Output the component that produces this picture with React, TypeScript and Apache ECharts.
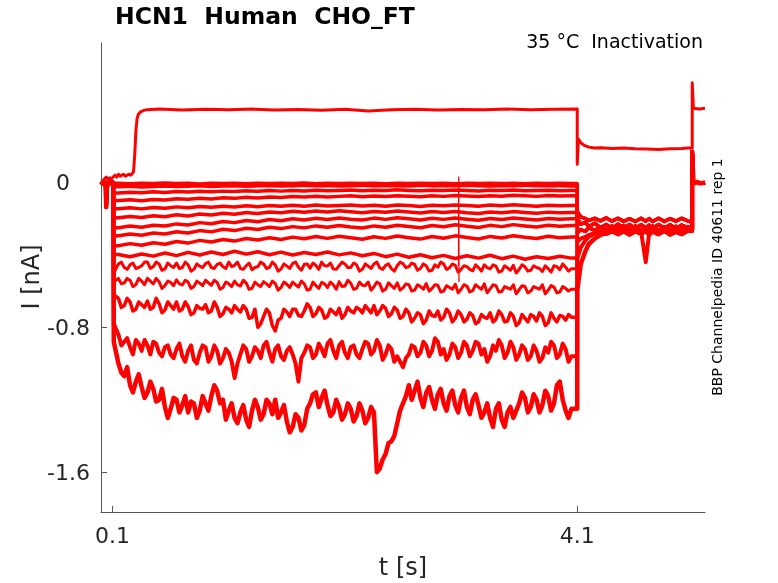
import React, { useEffect, useRef } from "react";
import * as echarts from "echarts";

// ---- sampling times (s) ----
const TC = [
  0.15, 0.25, 0.35, 0.45, 0.55, 0.65, 0.75, 0.85, 0.95, 1.05,
  1.15, 1.25, 1.35, 1.45, 1.55, 1.65, 1.75, 1.85, 1.95, 2.05,
  2.15, 2.25, 2.35, 2.45, 2.55, 2.65, 2.75, 2.85, 2.95, 3.05,
  3.15, 3.25, 3.35, 3.45, 3.55, 3.65, 3.75, 3.85, 3.95, 4.05,
];
const TF = [
  0.15, 0.2, 0.25, 0.3, 0.35, 0.4, 0.45, 0.5, 0.55, 0.6,
  0.65, 0.7, 0.75, 0.8, 0.85, 0.9, 0.95, 1.0, 1.05, 1.1,
  1.15, 1.2, 1.25, 1.3, 1.35, 1.4, 1.45, 1.5, 1.55, 1.6,
  1.65, 1.7, 1.75, 1.8, 1.85, 1.9, 1.95, 2.0, 2.05, 2.1,
  2.15, 2.2, 2.25, 2.3, 2.35, 2.4, 2.45, 2.5, 2.55, 2.6,
  2.65, 2.7, 2.75, 2.8, 2.85, 2.9, 2.95, 3.0, 3.05, 3.1,
  3.15, 3.2, 3.25, 3.3, 3.35, 3.4, 3.45, 3.5, 3.55, 3.6,
  3.65, 3.7, 3.75, 3.8, 3.85, 3.9, 3.95, 4.0, 4.05,
];
const TF_MID = [
  0.175, 0.225, 0.275, 0.325, 0.375, 0.425, 0.475, 0.525, 0.575, 0.625,
  0.675, 0.725, 0.775, 0.825, 0.875, 0.925, 0.975, 1.025, 1.075, 1.125,
  1.175, 1.225, 1.275, 1.325, 1.375, 1.425, 1.475, 1.525, 1.575, 1.625,
  1.675, 1.725, 1.775, 1.825, 1.875, 1.925, 1.975, 2.025, 2.075, 2.125,
  2.175, 2.225, 2.275, 2.325, 2.375, 2.425, 2.475, 2.525, 2.575, 2.625,
  2.675, 2.725, 2.775, 2.825, 2.875, 2.925, 2.975, 3.025, 3.075, 3.125,
  3.175, 3.225, 3.275, 3.325, 3.375, 3.425, 3.475, 3.525, 3.575, 3.625,
  3.675, 3.725, 3.775, 3.825, 3.875, 3.925, 3.975, 4.025,
];

// ---- pre-pulse (holding) segment shared by the inward traces ----
const PRE_T = [0, 0.015, 0.03, 0.04, 0.045, 0.05, 0.065, 0.08, 0.095, 0.105, 0.11];
const PRE_B = [0.004, -0.006, 0.003, -0.02, -0.135, -0.03, 0.002, -0.004, 0.003, -0.002, 0.0];

// value reached right at the step onset (t = 0.11 s)
const ONSET = [-0.005, -0.024, -0.058, -0.1, -0.145, -0.195, -0.25, -0.295, -0.35, -0.398, -0.5, -0.55, -0.62, -0.78, -0.88];

// ---- inward traces (nA), coarse grid TC ----
const B1 = [-0.004,-0.007,-0.005,-0.006,-0.003,-0.006,-0.005,-0.008,-0.004,-0.006,-0.005,-0.007,-0.004,-0.006,-0.005,-0.006,-0.003,-0.007,-0.005,-0.006,-0.004,-0.006,-0.005,-0.007,-0.004,-0.006,-0.005,-0.006,-0.004,-0.007,-0.005,-0.006,-0.004,-0.006,-0.005,-0.007,-0.004,-0.006,-0.005,-0.006];
const B2 = [-0.024,-0.021,-0.025,-0.022,-0.02,-0.023,-0.021,-0.019,-0.022,-0.02,-0.018,-0.021,-0.019,-0.017,-0.02,-0.018,-0.016,-0.019,-0.017,-0.02,-0.018,-0.016,-0.019,-0.017,-0.018,-0.02,-0.016,-0.018,-0.017,-0.019,-0.016,-0.018,-0.02,-0.017,-0.018,-0.016,-0.019,-0.017,-0.018,-0.02];
const B3 = [-0.058,-0.054,-0.057,-0.052,-0.055,-0.05,-0.053,-0.049,-0.052,-0.048,-0.05,-0.046,-0.049,-0.045,-0.048,-0.044,-0.047,-0.043,-0.046,-0.044,-0.042,-0.046,-0.043,-0.045,-0.041,-0.044,-0.046,-0.043,-0.045,-0.042,-0.044,-0.047,-0.043,-0.045,-0.042,-0.046,-0.044,-0.043,-0.046,-0.044];
const B4 = [-0.1,-0.096,-0.101,-0.094,-0.097,-0.09,-0.093,-0.087,-0.091,-0.085,-0.088,-0.082,-0.086,-0.08,-0.083,-0.078,-0.081,-0.076,-0.08,-0.077,-0.074,-0.079,-0.075,-0.078,-0.073,-0.076,-0.079,-0.074,-0.077,-0.072,-0.075,-0.078,-0.073,-0.076,-0.071,-0.074,-0.077,-0.072,-0.075,-0.073];
const B5 = [-0.145,-0.14,-0.146,-0.138,-0.142,-0.135,-0.14,-0.133,-0.137,-0.131,-0.136,-0.129,-0.134,-0.128,-0.132,-0.126,-0.131,-0.125,-0.13,-0.127,-0.124,-0.13,-0.126,-0.132,-0.125,-0.128,-0.133,-0.126,-0.129,-0.124,-0.128,-0.132,-0.125,-0.129,-0.123,-0.127,-0.131,-0.126,-0.129,-0.127];
const B6 = [-0.195,-0.188,-0.194,-0.184,-0.189,-0.179,-0.185,-0.174,-0.18,-0.17,-0.176,-0.166,-0.172,-0.163,-0.168,-0.159,-0.165,-0.158,-0.163,-0.157,-0.162,-0.168,-0.16,-0.165,-0.158,-0.163,-0.169,-0.161,-0.166,-0.16,-0.167,-0.171,-0.163,-0.168,-0.161,-0.166,-0.17,-0.164,-0.168,-0.166];
const B7 = [-0.25,-0.241,-0.247,-0.236,-0.241,-0.229,-0.235,-0.222,-0.228,-0.216,-0.222,-0.21,-0.217,-0.205,-0.212,-0.201,-0.208,-0.198,-0.205,-0.196,-0.203,-0.208,-0.197,-0.204,-0.195,-0.2,-0.207,-0.198,-0.204,-0.196,-0.203,-0.209,-0.199,-0.205,-0.197,-0.202,-0.207,-0.199,-0.203,-0.2];
const B8 = [-0.295,-0.285,-0.292,-0.279,-0.285,-0.272,-0.279,-0.266,-0.273,-0.259,-0.266,-0.253,-0.26,-0.248,-0.255,-0.244,-0.251,-0.24,-0.248,-0.238,-0.246,-0.252,-0.24,-0.247,-0.236,-0.243,-0.25,-0.238,-0.245,-0.234,-0.242,-0.249,-0.237,-0.244,-0.233,-0.24,-0.246,-0.236,-0.242,-0.238];
const B9 = [-0.35,-0.338,-0.347,-0.333,-0.341,-0.326,-0.335,-0.32,-0.329,-0.315,-0.324,-0.31,-0.318,-0.306,-0.315,-0.302,-0.311,-0.299,-0.309,-0.297,-0.306,-0.314,-0.3,-0.309,-0.296,-0.305,-0.313,-0.299,-0.308,-0.295,-0.304,-0.312,-0.298,-0.307,-0.294,-0.303,-0.31,-0.297,-0.305,-0.301];
const B10 = [-0.398,-0.41,-0.395,-0.407,-0.39,-0.404,-0.386,-0.401,-0.384,-0.398,-0.38,-0.396,-0.383,-0.399,-0.385,-0.401,-0.387,-0.398,-0.384,-0.4,-0.389,-0.405,-0.392,-0.41,-0.396,-0.413,-0.399,-0.416,-0.403,-0.42,-0.405,-0.418,-0.402,-0.421,-0.407,-0.424,-0.41,-0.42,-0.408,-0.418];

// ---- inward traces (nA), fine grid TF, plus in-between samples on TF_MID ----
const B11 = [
  -0.45,-0.47,-0.455,-0.475,-0.46,-0.44,-0.465,-0.45,-0.478,-0.46,
  -0.445,-0.47,-0.455,-0.48,-0.462,-0.448,-0.47,-0.452,-0.466,-0.44,
  -0.458,-0.475,-0.46,-0.482,-0.465,-0.45,-0.47,-0.455,-0.478,-0.462,
  -0.447,-0.468,-0.452,-0.474,-0.458,-0.44,-0.462,-0.478,-0.46,-0.45,
  -0.47,-0.455,-0.48,-0.462,-0.45,-0.472,-0.458,-0.476,-0.46,-0.448,
  -0.466,-0.452,-0.475,-0.46,-0.485,-0.468,-0.45,-0.472,-0.458,-0.48,
  -0.465,-0.488,-0.47,-0.455,-0.478,-0.462,-0.49,-0.472,-0.458,-0.48,
  -0.466,-0.485,-0.47,-0.492,-0.476,-0.46,-0.482,-0.468,-0.476,
];
const M11 = [
  -0.44,-0.48,-0.445,-0.47,-0.44,-0.475,-0.44,-0.485,-0.445,-0.47,
  -0.475,-0.44,-0.49,-0.45,-0.47,-0.44,-0.475,-0.445,-0.475,-0.465,
  -0.44,-0.48,-0.445,-0.47,-0.44,-0.475,-0.44,-0.49,-0.45,-0.475,
  -0.44,-0.485,-0.45,-0.445,-0.48,-0.46,-0.445,-0.48,-0.44,-0.47,
  -0.445,-0.49,-0.45,-0.475,-0.44,-0.48,-0.45,-0.49,-0.44,-0.47,
  -0.445,-0.485,-0.45,-0.49,-0.455,-0.44,-0.48,-0.45,-0.495,-0.46,
  -0.48,-0.455,-0.49,-0.47,-0.455,-0.495,-0.46,-0.485,-0.5,-0.455,
  -0.49,-0.46,-0.475,-0.46,-0.495,-0.465,-0.45,-0.49,
];
const B12 = [
  -0.53,-0.555,-0.54,-0.565,-0.545,-0.53,-0.56,-0.548,-0.57,-0.552,
  -0.538,-0.566,-0.55,-0.575,-0.556,-0.54,-0.568,-0.552,-0.58,-0.56,
  -0.545,-0.572,-0.555,-0.585,-0.565,-0.548,-0.575,-0.558,-0.58,-0.562,
  -0.55,-0.578,-0.56,-0.59,-0.57,-0.552,-0.58,-0.565,-0.548,-0.572,
  -0.556,-0.585,-0.568,-0.55,-0.576,-0.56,-0.59,-0.57,-0.555,-0.582,
  -0.565,-0.595,-0.575,-0.558,-0.585,-0.568,-0.6,-0.58,-0.562,-0.59,
  -0.572,-0.598,-0.578,-0.56,-0.588,-0.57,-0.602,-0.582,-0.565,-0.592,
  -0.575,-0.6,-0.582,-0.565,-0.595,-0.578,-0.605,-0.585,-0.59,
];
const M12 = [
  -0.56,-0.53,-0.575,-0.53,-0.565,-0.545,-0.53,-0.585,-0.545,-0.57,
  -0.56,-0.54,-0.585,-0.545,-0.57,-0.555,-0.54,-0.59,-0.55,-0.575,
  -0.565,-0.54,-0.59,-0.55,-0.575,-0.56,-0.545,-0.595,-0.55,-0.58,
  -0.565,-0.545,-0.595,-0.55,-0.585,-0.56,-0.55,-0.59,-0.575,-0.54,
  -0.59,-0.55,-0.57,-0.595,-0.55,-0.6,-0.555,-0.585,-0.595,-0.56,
  -0.6,-0.565,-0.59,-0.6,-0.565,-0.605,-0.57,-0.59,-0.61,-0.565,
  -0.605,-0.565,-0.59,-0.61,-0.565,-0.605,-0.575,-0.59,-0.615,-0.57,
  -0.61,-0.575,-0.59,-0.615,-0.57,-0.61,-0.575,-0.6,
];
const B13 = [
  -0.64,-0.68,-0.66,-0.7,-0.675,-0.655,-0.69,-0.67,-0.705,-0.68,
  -0.66,-0.7,-0.685,-0.72,-0.695,-0.675,-0.71,-0.69,-0.725,-0.7,
  -0.68,-0.715,-0.7,-0.745,-0.8,-0.74,-0.72,-0.82,-0.75,-0.715,
  -0.7,-0.735,-0.71,-0.69,-0.725,-0.705,-0.74,-0.715,-0.695,-0.73,
  -0.71,-0.69,-0.72,-0.7,-0.68,-0.71,-0.695,-0.725,-0.705,-0.74,
  -0.72,-0.75,-0.73,-0.76,-0.735,-0.71,-0.745,-0.72,-0.75,-0.73,
  -0.755,-0.735,-0.77,-0.745,-0.72,-0.755,-0.73,-0.765,-0.74,-0.775,
  -0.75,-0.73,-0.765,-0.74,-0.775,-0.75,-0.735,-0.76,-0.745,
];
const M13 = [
  -0.69,-0.64,-0.71,-0.66,-0.69,-0.7,-0.64,-0.72,-0.66,-0.7,
  -0.71,-0.66,-0.73,-0.68,-0.7,-0.72,-0.66,-0.74,-0.69,-0.72,
  -0.7,-0.68,-0.75,-0.7,-0.78,-0.7,-0.79,-0.76,-0.7,-0.74,
  -0.7,-0.74,-0.67,-0.74,-0.69,-0.75,-0.7,-0.73,-0.75,-0.69,
  -0.72,-0.7,-0.68,-0.72,-0.73,-0.68,-0.74,-0.69,-0.75,-0.7,
  -0.77,-0.72,-0.78,-0.71,-0.74,-0.76,-0.7,-0.77,-0.71,-0.77,
  -0.72,-0.78,-0.73,-0.75,-0.77,-0.71,-0.77,-0.72,-0.79,-0.73,
  -0.77,-0.74,-0.72,-0.79,-0.72,-0.77,-0.74,-0.73,
];
const B14 = [
  -0.84,-0.88,-0.91,-0.87,-0.93,-0.9,-0.88,-0.94,-0.91,-0.95,
  -0.92,-0.96,-0.93,-0.98,-0.94,-0.91,-0.96,-0.93,-0.97,-0.94,
  -1.08,-0.95,-0.92,-0.96,-0.93,-0.9,-0.94,-0.92,-0.96,-0.93,
  -0.95,-1.1,-0.94,-0.91,-0.95,-0.92,-0.89,-0.93,-0.9,-0.94,
  -0.91,-0.95,-0.92,-0.89,-0.93,-0.9,-0.95,-0.92,-0.96,-1.02,
  -0.95,-0.91,-0.94,-0.9,-0.93,-0.88,-0.92,-0.95,-0.91,-0.94,
  -0.9,-0.93,-0.89,-0.92,-0.96,-0.93,-0.9,-0.94,-0.91,-0.95,
  -0.92,-0.96,-0.93,-0.97,-0.94,-0.9,-0.95,-0.92,-0.96,
];
const M14 = [
  -0.9,-0.86,-0.95,-0.89,-0.87,-0.95,-0.89,-0.96,-0.9,-0.97,
  -0.89,-0.99,-0.9,-1.0,-0.9,-0.99,-0.9,-1.0,-0.92,-0.99,
  -1.0,-0.9,-0.99,-0.91,-0.97,-0.88,-0.99,-0.9,-0.98,-0.91,
  -1.0,-0.97,-0.9,-0.97,-0.89,-0.96,-0.87,-0.97,-0.88,-0.97,
  -0.9,-0.97,-0.88,-0.95,-0.87,-0.98,-0.9,-0.99,-0.99,-0.97,
  -0.9,-0.96,-0.88,-0.96,-0.86,-0.95,-0.98,-0.89,-0.97,-0.88,
  -0.96,-0.88,-0.95,-0.99,-0.9,-0.87,-0.97,-0.88,-0.98,-0.9,
  -0.98,-0.9,-0.99,-0.91,-0.88,-0.97,-0.89,-0.99,
];
const B15 = [
  -1.0,-1.07,-1.12,-1.1,-1.13,-1.16,-1.14,-1.2,-1.24,-1.25,
  -1.2,-1.23,-1.27,-1.22,-1.26,-1.22,-1.18,-1.15,-1.2,-1.26,
  -1.3,-1.27,-1.31,-1.26,-1.24,-1.28,-1.22,-1.2,-1.27,-1.32,
  -1.35,-1.3,-1.34,-1.22,-1.16,-1.19,-1.23,-1.27,-1.24,-1.28,
  -1.25,-1.29,-1.26,-1.3,-1.27,-1.58,-1.5,-1.43,-1.33,-1.22,
  -1.12,-1.15,-1.19,-1.16,-1.2,-1.17,-1.22,-1.18,-1.23,-1.19,
  -1.24,-1.2,-1.23,-1.27,-1.3,-1.25,-1.31,-1.27,-1.3,-1.22,
  -1.19,-1.24,-1.2,-1.23,-1.18,-1.22,-1.1,-1.26,-1.25,
];
const M15 = [
  -1.05,-1.02,-1.16,-1.06,-1.19,-1.1,-1.21,-1.14,-1.3,-1.19,
  -1.27,-1.18,-1.21,-1.3,-1.18,-1.26,-1.12,-1.22,-1.31,-1.22,
  -1.33,-1.23,-1.35,-1.2,-1.31,-1.2,-1.28,-1.3,-1.23,-1.38,
  -1.28,-1.37,-1.25,-1.17,-1.24,-1.15,-1.29,-1.2,-1.31,-1.22,
  -1.32,-1.22,-1.33,-1.24,-1.6,-1.53,-1.44,-1.4,-1.26,-1.18,
  -1.2,-1.1,-1.24,-1.13,-1.25,-1.14,-1.26,-1.15,-1.27,-1.15,
  -1.28,-1.17,-1.3,-1.22,-1.35,-1.22,-1.35,-1.24,-1.26,-1.16,
  -1.27,-1.17,-1.27,-1.15,-1.26,-1.12,-1.2,-1.3,
];

// artifact spike seen at t ≈ 3.08 s
const ART_T = [3.078, 3.08, 3.082];
const ART_V = [-0.46, 0.03, -0.55];

// ---- tail (after 4.1 s) ----
const POST_T = [4.1, 4.13, 4.17, 4.2, 4.25, 4.3, 4.35, 4.4, 4.45, 4.5, 4.55, 4.6, 4.65, 4.69, 4.72, 4.75, 4.8, 4.85, 4.9, 4.95, 5.0, 5.05, 5.09];
const POST_A = [-0.2,-0.23,-0.22,-0.245,-0.225,-0.25,-0.232,-0.255,-0.23,-0.252,-0.232,-0.256,-0.234,-0.25,-0.236,-0.255,-0.232,-0.253,-0.234,-0.256,-0.235,-0.25,-0.24];
const POST_B = [-0.28,-0.26,-0.27,-0.25,-0.265,-0.245,-0.262,-0.24,-0.26,-0.238,-0.262,-0.24,-0.265,-0.245,-0.26,-0.24,-0.266,-0.245,-0.262,-0.242,-0.26,-0.244,-0.25];
const POST_C = [-0.42,-0.36,-0.32,-0.3,-0.285,-0.27,-0.28,-0.262,-0.278,-0.258,-0.275,-0.255,-0.272,-0.44,-0.275,-0.258,-0.276,-0.255,-0.27,-0.252,-0.274,-0.256,-0.26];
const POST_D = [-0.33,-0.31,-0.3,-0.29,-0.28,-0.272,-0.285,-0.27,-0.288,-0.272,-0.29,-0.272,-0.286,-0.27,-0.29,-0.272,-0.288,-0.27,-0.29,-0.275,-0.288,-0.27,-0.27];
const POST_E = [-0.16,-0.19,-0.2,-0.21,-0.198,-0.212,-0.196,-0.214,-0.198,-0.215,-0.2,-0.216,-0.198,-0.214,-0.2,-0.216,-0.198,-0.215,-0.2,-0.214,-0.198,-0.212,-0.22];
const POST_F = [-0.6,-0.45,-0.38,-0.34,-0.31,-0.29,-0.28,-0.27,-0.28,-0.262,-0.278,-0.258,-0.272,-0.26,-0.278,-0.255,-0.27,-0.25,-0.272,-0.255,-0.27,-0.252,-0.258];
const END_T = [5.09, 5.1, 5.13, 5.16, 5.2];
const END_B = [0.17, -0.004, 0.002, -0.005, -0.002];

// ---- outward (top) trace ----
const A_T = [0, 0.015, 0.03, 0.045, 0.06, 0.075, 0.09, 0.105, 0.12, 0.135, 0.15, 0.165, 0.18, 0.195, 0.21, 0.225, 0.24, 0.255, 0.27, 0.28, 0.29, 0.3, 0.31, 0.32, 0.34, 0.37, 0.4, 0.5, 0.7, 0.9, 1.1, 1.3, 1.5, 1.7, 1.9, 2.1, 2.3, 2.5, 2.7, 2.9, 3.1, 3.3, 3.5, 3.7, 3.9, 4.1];
const A_V = [0.01, 0.005, 0.02, 0.03, 0.015, 0.025, 0.02, 0.03, 0.04, 0.03, 0.045, 0.035, 0.04, 0.045, 0.035, 0.04, 0.045, 0.04, 0.05, 0.06, 0.15, 0.28, 0.35, 0.375, 0.39, 0.398, 0.402, 0.405, 0.4, 0.404, 0.401, 0.405, 0.4, 0.403, 0.398, 0.404, 0.395, 0.401, 0.404, 0.4, 0.403, 0.401, 0.405, 0.402, 0.404, 0.405];
const A_POST_T = [4.1, 4.11, 4.13, 4.16, 4.2, 4.25, 4.3, 4.4, 4.5, 4.6, 4.7, 4.8, 4.9, 5.0, 5.05, 5.09, 5.09, 5.1, 5.15, 5.2];
const A_POST_V = [0.1, 0.24, 0.22, 0.205, 0.195, 0.19, 0.192, 0.188, 0.19, 0.186, 0.185, 0.182, 0.186, 0.188, 0.19, 0.19, 0.55, 0.41, 0.405, 0.41];

// ---- axes ----
const X_TICKS = [0.1, 4.1];
const Y_TICKS = [-1.6, -0.8, 0];

const TITLE = "HCN1  Human  CHO_FT";
const CONDITION = "35 °C  Inactivation";
const SIDE_NOTE = "BBP Channelpedia ID 40611 rep 1";

function zip(t: number[], v: number[]): number[][] {
  const n = Math.min(t.length, v.length);
  const out: number[][] = [];
  for (let i = 0; i < n; i++) out.push([t[i], v[i]]);
  return out;
}

function buildB(grid: number[], main: number[], onset: number, post: number[], extra?: number[][]) {
  const pts: number[][] = [];
  pts.push(...zip(PRE_T, PRE_B));
  pts.push([0.11, onset]);
  let m = zip(grid, main);
  if (extra) m = m.concat(extra).sort((a, b) => a[0] - b[0]);
  pts.push(...m);
  pts.push([4.1, main[main.length - 1]]);
  pts.push(...zip(POST_T, post));
  pts.push(...zip(END_T, END_B));
  return pts;
}

const FONT = "DejaVu Sans";
const TXT = "#262626";

export default function App() {
  const ref = useRef<HTMLDivElement>(null);
  useEffect(() => {
    if (!ref.current) return;
    const chart = echarts.init(ref.current, undefined, { renderer: "svg" });
    const traces: { data: number[][]; w: number }[] = [
      { data: buildB(TC, B1, ONSET[0], POST_E), w: 3.5 },
      { data: buildB(TC, B2, ONSET[1], POST_E), w: 3.5 },
      { data: buildB(TC, B3, ONSET[2], POST_A), w: 3.5 },
      { data: buildB(TC, B4, ONSET[3], POST_A), w: 3.5 },
      { data: buildB(TC, B5, ONSET[4], POST_B), w: 3.5 },
      { data: buildB(TC, B6, ONSET[5], POST_B), w: 3.5 },
      { data: buildB(TC, B7, ONSET[6], POST_A), w: 3.5 },
      { data: buildB(TC, B8, ONSET[7], POST_E), w: 3.5 },
      { data: buildB(TC, B9, ONSET[8], POST_D), w: 3.5 },
      { data: buildB(TC, B10, ONSET[9], POST_B), w: 3.5 },
      { data: buildB(TF, B11, ONSET[10], POST_D, zip(TF_MID, M11)), w: 3 },
      { data: buildB(TF, B12, ONSET[11], POST_A, zip(TF_MID, M12)), w: 3 },
      { data: buildB(TF, B13, ONSET[12], POST_D, zip(TF_MID, M13)), w: 3.5 },
      { data: buildB(TF, B14, ONSET[13], POST_C, zip(TF_MID, M14)), w: 4 },
      { data: buildB(TF, B15, ONSET[14], POST_F, zip(TF_MID, M15)), w: 4.5 },
      { data: zip(A_T, A_V).concat(zip(A_POST_T, A_POST_V)), w: 3 },
      { data: zip(ART_T, ART_V), w: 1.3 },
    ];
    chart.setOption({
      animation: false,
      grid: { left: 101, right: 73, top: 43, bottom: 71, containLabel: false },
      xAxis: {
        type: "value",
        min: 0,
        max: 5.2,
        axisLine: { show: true, onZero: false, lineStyle: { color: "#555555", width: 1 } },
        axisTick: { show: true, inside: true, length: 6, customValues: X_TICKS, lineStyle: { color: "#555555" } },
        axisLabel: {
          customValues: X_TICKS,
          margin: 12,
          fontSize: 22,
          fontFamily: FONT,
          color: TXT,
          formatter: (v: number) => String(v),
        },
        splitLine: { show: false },
      },
      yAxis: {
        type: "value",
        min: -1.82,
        max: 0.77,
        axisLine: { show: true, onZero: false, lineStyle: { color: "#555555", width: 1 } },
        axisTick: { show: true, inside: true, length: 6, customValues: Y_TICKS, lineStyle: { color: "#555555" } },
        axisLabel: {
          customValues: Y_TICKS,
          margin: 11,
          fontSize: 22,
          fontFamily: FONT,
          color: TXT,
          formatter: (v: number) => (v === 0 ? "{z|0}" : String(v)),
          rich: { z: { fontSize: 22, fontFamily: FONT, color: TXT, padding: [0, 20, 0, 0] } },
        },
        splitLine: { show: false },
      },
      series: traces.map((t) => ({
        type: "line",
        data: t.data,
        showSymbol: false,
        symbol: "none",
        silent: true,
        lineStyle: { color: "#ff0000", width: t.w, join: "round" },
      })),
      graphic: [
        {
          type: "text",
          left: 115,
          top: 4,
          style: { text: TITLE, fontSize: 23.5, fontWeight: "bold", fontFamily: FONT, fill: "#000000" },
        },
        {
          type: "text",
          x: 703,
          y: 41,
          style: { text: CONDITION, fontSize: 19, fontFamily: FONT, fill: "#000000", align: "right", verticalAlign: "middle" },
        },
        {
          type: "text",
          x: 717,
          y: 277,
          rotation: Math.PI / 2,
          style: { text: SIDE_NOTE, fontSize: 14, fontFamily: FONT, fill: "#000000", align: "center", verticalAlign: "middle" },
        },
        {
          type: "text",
          x: 31,
          y: 277,
          rotation: Math.PI / 2,
          style: { text: "I [nA]", fontSize: 24, fontFamily: FONT, fill: TXT, align: "center", verticalAlign: "middle" },
        },
        {
          type: "text",
          x: 403,
          y: 567,
          style: { text: "t [s]", fontSize: 24, fontFamily: FONT, fill: TXT, align: "center", verticalAlign: "middle" },
        },
      ],
    });
    return () => chart.dispose();
  }, []);
  return <div ref={ref} style={{ position: "fixed", left: 0, top: 0, width: 778, height: 583 }} />;
}
